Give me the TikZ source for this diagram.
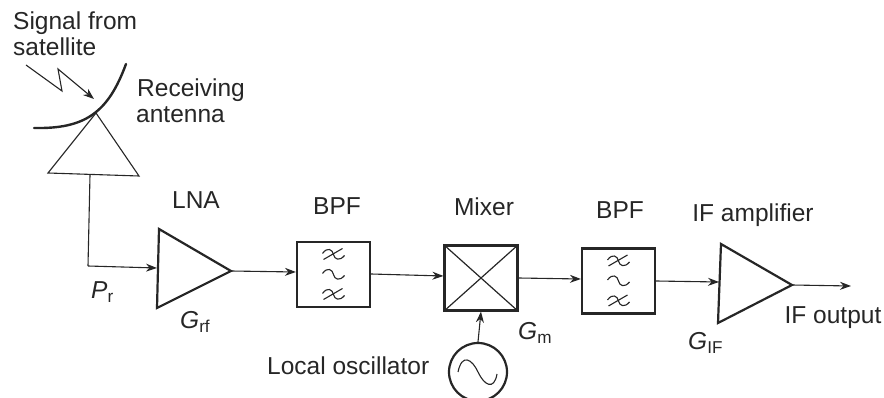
\documentclass[tikz,border=0pt]{standalone}
\usepackage{fontspec}
\setmainfont{Liberation Sans}
\usetikzlibrary{arrows.meta,calc}
\definecolor{ink}{gray}{0.15}
\tikzset{
  x=1pt,y=-1pt,
  lbl/.style={font=\fontsize{24.5}{28}\selectfont,text=ink,inner sep=0pt,align=left},
  conn/.style={draw=ink,line width=1.1pt,-{Stealth[length=11pt,width=8pt]}},
  thin line/.style={draw=ink,line width=1.1pt},
  amp/.style={draw=ink,line width=2.2pt,line join=miter},
  block/.style={draw=ink,line width=2.2pt,minimum width=73pt,minimum height=65pt,inner sep=0pt},
  wave/.style={draw=ink,line width=1.1pt}
}
\newcommand{\filtersym}[1]{%
  \foreach \dy/\sl in {-20/1,0/0,20/1}{%
    \begin{scope}[shift={($(#1)+(0,\dy)$)}]
      \draw[wave] (-11,-1) .. controls (-6,-8) and (-1,-5) .. (0,0) .. controls (1,5) and (6,7) .. (11,1);
      \ifnum\sl=1 \draw[wave] (-10,5) -- (9,-6);\fi
    \end{scope}}%
}
\begin{document}
\begin{tikzpicture}
\useasboundingbox (0,0) rectangle (884,398);
% antenna
\draw[draw=ink,line width=2.4pt,line cap=round] (34,128) .. controls (85,129) and (108,113) .. (126,64);
\coordinate (antA) at (96,113);
\coordinate (antL) at (48,173);
\coordinate (antR) at (139,176);
\coordinate (antOut) at (90,175);
\draw[thin line,line join=miter] (antA) -- (antL) -- (antR) -- cycle;
% lightning
\coordinate (s0) at (26,65);
\coordinate (s1) at (62,91);
\coordinate (s2) at (58,69);
\coordinate (s3) at (94,99);
\draw[conn] (s0) -- (s1) -- (s2) -- (s3);
% LNA
\coordinate (lnaT) at (159,229);
\coordinate (lnaB) at (157,308);
\coordinate (lnaO) at (231,271);
\coordinate (lnaI) at (157,268);
\coordinate (bend) at (88,266);
\draw[amp] (lnaT) -- (lnaO) -- (lnaB) -- cycle;
% IF amp
\coordinate (ifT) at (721,244);
\coordinate (ifB) at (718,323);
\coordinate (ifO) at (792,285);
\coordinate (ifI) at (719,282);
\coordinate (ifEnd) at (851,286);
\draw[amp] (ifT) -- (ifO) -- (ifB) -- cycle;
% boxes
\node[block] (bpf1) at (333.5,274.5) {};
\node[block] (mix) at (481,278) {};
\node[block] (bpf2) at (618.5,281) {};
\draw[line width=1.2pt,draw=ink] (mix.north west) -- (mix.south east) (mix.north east) -- (mix.south west);
\filtersym{bpf1}
\filtersym{bpf2}
% oscillator
\node[draw=ink,line width=2.2pt,circle,minimum size=58pt,inner sep=0pt] (lo) at (478,372) {};
\draw[wave,line width=1.1pt] (458,372) .. controls (462,353) and (472,359) .. (478,372) .. controls (484,385) and (494,391) .. (497,374);
% connectors
\draw[thin line] (antOut) -- (bend);
\draw[conn] (bend) -- (lnaI);
\draw[conn] (lnaO) -- (bpf1.west |- 0,272);
\draw[conn] (bpf1.east |- 0,274) -- (mix.west |- 0,276);
\draw[conn] (mix.east |- 0,278) -- (bpf2.west |- 0,279);
\draw[conn] (bpf2.east |- 0,281) -- (ifI);
\draw[conn] (ifO) -- (ifEnd);
\draw[conn] (lo.north) -- (mix.south);
% labels
\node[lbl,anchor=west] (t1) at (13,23) {Signal from};
\node[lbl,anchor=west] (t2) at (13,47) {satellite};
\node[lbl,anchor=west] (t3) at (137,90) {Receiving};
\node[lbl,anchor=west] (t4) at (136,115) {antenna};
\node[lbl] (t5) at (196,200) {LNA};
\node[lbl] (t6) at (337,206) {BPF};
\node[lbl] (t7) at (484,207) {Mixer};
\node[lbl] (t8) at (620,210) {BPF};
\node[lbl] (t9) at (753,215) {IF amplifier};
\node[lbl] (t10) at (833,318) {IF output};
\node[lbl,anchor=west] (t11) at (267,366) {Local oscillator};
\node[lbl,anchor=west] (t12) at (91,292) {\textit{P}\textsubscript{r}};
\node[lbl,anchor=west] (t13) at (180,322) {\textit{G}\textsubscript{rf}};
\node[lbl,anchor=west] (t14) at (518,333) {\textit{G}\textsubscript{m}};
\node[lbl,anchor=west] (t15) at (688,343) {\textit{G}\textsubscript{IF}};
\end{tikzpicture}
\end{document}
